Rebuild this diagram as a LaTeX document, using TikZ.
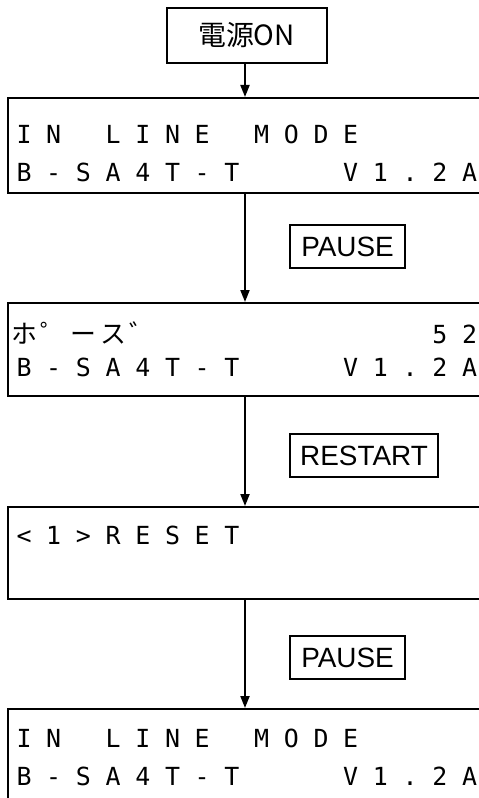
\documentclass[tikz,border=0pt]{standalone}
\usepackage{fontspec}
\setmainfont{Liberation Sans}
\newfontfamily\lcdfont{DejaVu Sans Mono}
\newfontfamily\jpfont{Noto Sans CJK JP}
\usetikzlibrary{arrows.meta}

% one display row: node prefix, baseline y, one entry per column ({} = blank)
\newcommand\lcdrow[3]{%
  \foreach \ch [count=\k from 0] in {#3}{%
    \ifx\ch\empty\else\node[ch] (#1\k) at (24+29.7*\k,#2) {\ch};\fi}}
\newcommand\kana{\jpfont\fontsize{26}{26}\selectfont}

\begin{document}
\begin{tikzpicture}[x=1bp,y=-1bp,
 lcd/.style={draw,line width=2bp,minimum width=471.5bp,inner sep=0pt},
 key/.style={draw,line width=1.8bp,minimum height=43bp,inner sep=0pt,font=\fontsize{28}{28}\selectfont},
 ch/.style={anchor=base,inner sep=0pt,font=\lcdfont\fontsize{25}{25}\selectfont},
 a/.style={-{Triangle[length=12bp,width=9bp]},line width=2bp}]
\useasboundingbox (0,0) rectangle (479,798);
\clip (0,0) rectangle (479,798);
\coordinate (ax) at (245,0);
\node[draw,line width=2bp,minimum width=160bp,minimum height=55bp,inner sep=0pt,
 font=\jpfont\fontsize{28}{28}\selectfont] (on) at (246.5,35.5) {電源ON};
\node[lcd,minimum height=95bp] (d1) at (243.75,145.5) {};
\node[lcd,minimum height=93bp] (d2) at (243.75,349.5) {};
\node[lcd,minimum height=92bp] (d3) at (243.75,553) {};
\node[lcd,minimum height=95bp] (d4) at (243.75,756.5) {};
\node[key,minimum width=115bp] (k1) at (347.5,246.5) {PAUSE};
\node[key,minimum width=148bp] (k2) at (364,455.5) {RESTART};
\node[key,minimum width=115bp] (k3) at (347.5,657.5) {PAUSE};
% display texts
\lcdrow{a}{143.5}{I,N,{},L,I,N,E,{},M,O,D,E}
\lcdrow{b}{181.5}{B,-,S,A,4,T,-,T,{},{},{},V,1,.,2,A}
\lcdrow{c}{343.5}{{\kana ホ},{\kana ゜},{\kana ー},{\kana ス},{\kana ゛},{},{},{},{},{},{},{},{},{},5,2}
\lcdrow{e}{376.5}{B,-,S,A,4,T,-,T,{},{},{},V,1,.,2,A}
\lcdrow{f}{544.5}{<,1,>,R,E,S,E,T}
\lcdrow{g}{747.5}{I,N,{},L,I,N,E,{},M,O,D,E}
\lcdrow{h}{785.5}{B,-,S,A,4,T,-,T,{},{},{},V,1,.,2,A}
\draw[a](on.south -| ax)--(d1.north -| ax);
\draw[a](d1.south -| ax)--(d2.north -| ax);
\draw[a](d2.south -| ax)--(d3.north -| ax);
\draw[a](d3.south -| ax)--(d4.north -| ax);
\end{tikzpicture}
\end{document}
